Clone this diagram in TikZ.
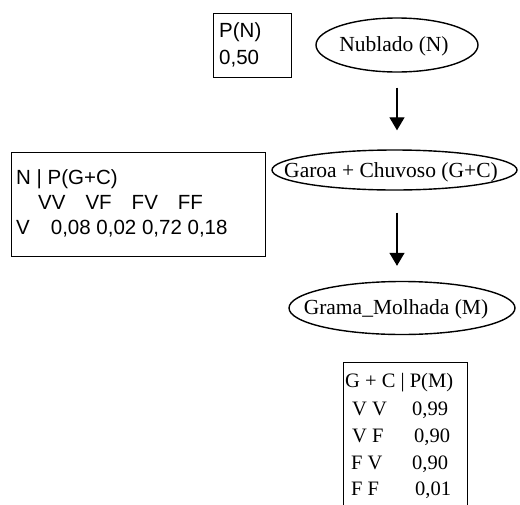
\documentclass[tikz,border=0pt]{standalone}
\usepackage{fontspec}
\setmainfont{Liberation Serif}
\newfontfamily\arialfont{Liberation Sans}
\usetikzlibrary{shapes.geometric,arrows.meta}

\tikzset{
  table/.style={draw, line width=0.8pt, rectangle, inner sep=0pt},
  sanstext/.style={font=\arialfont\fontsize{20.5}{25}\selectfont, inner sep=0pt, anchor=base west},
  serftext/.style={font=\fontsize{20.5}{25}\selectfont, inner sep=0pt, anchor=base west},
  varnode/.style={draw, ellipse, line width=1.4pt, inner sep=0pt},
  varlabel/.style={font=\fontsize{21.5}{25}\selectfont, inner sep=0pt},
  link/.style={line width=1.3pt, -{Triangle[width=15pt,length=13pt]}}
}

\begin{document}
\begin{tikzpicture}[x=1pt, y=-1pt]
  \useasboundingbox (0,0) rectangle (520,504);

  % network variables
  \node[varnode, minimum width=162pt, minimum height=54pt] (nub) at (397,45) {};
  \node[varlabel] (nubtxt) at (394,46) {Nublado (N)};

  \node[varnode, minimum width=245pt, minimum height=40pt] (gar) at (394.5,170) {};
  \node[varlabel] (gartxt) at (391,172) {Garoa + Chuvoso (G+C)};

  \node[varnode, minimum width=226pt, minimum height=53pt] (gram) at (402,308) {};
  \node[varlabel] (gramtxt) at (396,309) {Grama\_Molhada (M)};

  % dependencies
  \draw[link, shorten <=15pt, shorten >=19pt] (nub.south) -- (nub.south |- gar.north);
  \draw[link, shorten <=22pt, shorten >=15pt] (gar.south -| nub.south) -- (gram.north -| nub.south);

  % prior of N
  \node[table, minimum width=78pt, minimum height=64pt] (pn) at (252,45) {};
  \node[sanstext] (pn1) at (219,37) {P(N)};
  \node[sanstext] (pn2) at (219,64) {0,50};

  % conditional table of G+C given N
  \node[table, minimum width=254pt, minimum height=104pt] (pgc) at (138,204) {};
  \node[sanstext] (pgc1) at (16,184) {N | P(G+C)};
  \node[sanstext] (pgc2) at (38,209) {VV\hspace{20pt}VF\hspace{20pt}FV\hspace{20pt}FF};
  \node[sanstext] (pgc3) at (16,234) {V\hspace{21pt}0,08 0,02 0,72 0,18};

  % conditional table of M given G+C
  \node[table, minimum width=124pt, minimum height=144pt] (pm) at (405,434) {};
  \node[serftext] (pm1) at (345,387) {G + C | P(M)};
  \node[serftext] (pm2) at (352,415) {\makebox[60pt][l]{V V}0,99};
  \node[serftext] (pm3) at (352,442) {\makebox[62pt][l]{V F}0,90};
  \node[serftext] (pm4) at (351,469) {\makebox[61pt][l]{F V}0,90};
  \node[serftext] (pm5) at (351,495) {\makebox[64pt][l]{F F}0,01};
\end{tikzpicture}
\end{document}
